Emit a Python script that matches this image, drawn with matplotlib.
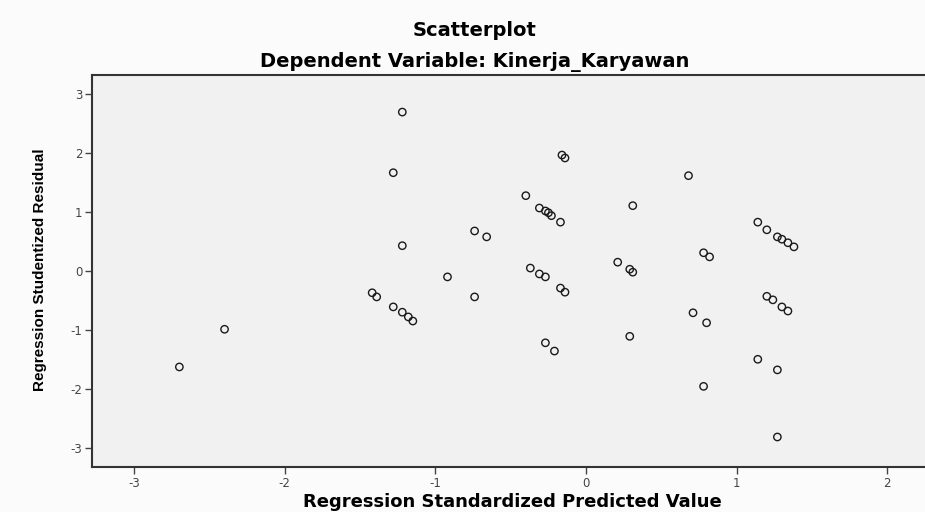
import matplotlib.pyplot as plt

plt.rcParams['axes.unicode_minus'] = False

# regression standardized predicted value (x) and studentized residual (y)
pred = [-2.70, -2.40, -1.42, -1.39, -1.28, -1.22, -1.18, -1.15, -1.22, -1.28,
        -1.22, -0.92, -0.74, -0.66, -0.74, -0.40, -0.31, -0.27, -0.25, -0.23,
        -0.17, -0.37, -0.31, -0.27, -0.17, -0.14, -0.16, -0.14, -0.27, -0.21,
        0.21, 0.29, 0.31, 0.31, 0.29, 0.68, 0.71, 0.80, 0.78, 0.78,
        0.82, 1.14, 1.20, 1.27, 1.30, 1.34, 1.38, 1.20, 1.24, 1.30,
        1.34, 1.14, 1.27, 1.27]
resid = [-1.63, -0.99, -0.37, -0.44, -0.61, -0.70, -0.78, -0.85, 2.70, 1.67,
         0.43, -0.10, 0.68, 0.58, -0.44, 1.28, 1.07, 1.02, 0.99, 0.94,
         0.83, 0.05, -0.05, -0.10, -0.29, -0.36, 1.97, 1.92, -1.22, -1.36,
         0.15, 0.03, -0.02, 1.11, -1.11, 1.62, -0.71, -0.88, -1.96, 0.31,
         0.24, 0.83, 0.70, 0.58, 0.54, 0.48, 0.41, -0.43, -0.49, -0.61,
         -0.68, -1.50, -1.68, -2.82]

xticks = [-3, -2, -1, 0, 1, 2]
yticks = [-3, -2, -1, 0, 1, 2, 3]

fig = plt.figure(figsize=(9.25, 5.12), dpi=100, facecolor='#fbfbfb')
ax = fig.add_axes([92 / 925, 45 / 512, 1 - 92 / 925, 392 / 512])
ax.set_facecolor('#f1f1f1')

ax.scatter(pred, resid, s=28, facecolors='none', edgecolors='#1a1a1a', linewidths=1.0)

ax.set_xlim(-3.28, 2.25)
ax.set_ylim(-3.33, 3.33)
ax.set_xticks(xticks)
ax.set_yticks(yticks)
ax.tick_params(direction='out', length=5, width=1, colors='#444444', labelsize=8.5,
               pad=2)

for side in ['left', 'bottom', 'top']:
    ax.spines[side].set_color('#333333')
    ax.spines[side].set_linewidth(1.5)
ax.spines['right'].set_visible(False)

fig.text(475 / 925, 1 - 30 / 512, 'Scatterplot', ha='center', va='center',
         fontsize=14, fontweight='bold', family='DejaVu Sans')
fig.text(475 / 925, 1 - 62 / 512, 'Dependent Variable: Kinerja_Karyawan', ha='center',
         va='center', fontsize=14, fontweight='bold', family='DejaVu Sans')
fig.text(512 / 925, 1 - 507 / 512, 'Regression Standardized Predicted Value',
         ha='center', va='baseline', fontsize=13, fontweight='bold', family='DejaVu Sans')
fig.text(40 / 925, 1 - 270 / 512, 'Regression Studentized Residual', ha='center',
         va='center', rotation=90, fontsize=11, fontweight='bold',
         family=['Liberation Sans Narrow', 'Liberation Sans'])

fig.savefig('out.png', dpi=100, facecolor=fig.get_facecolor())
